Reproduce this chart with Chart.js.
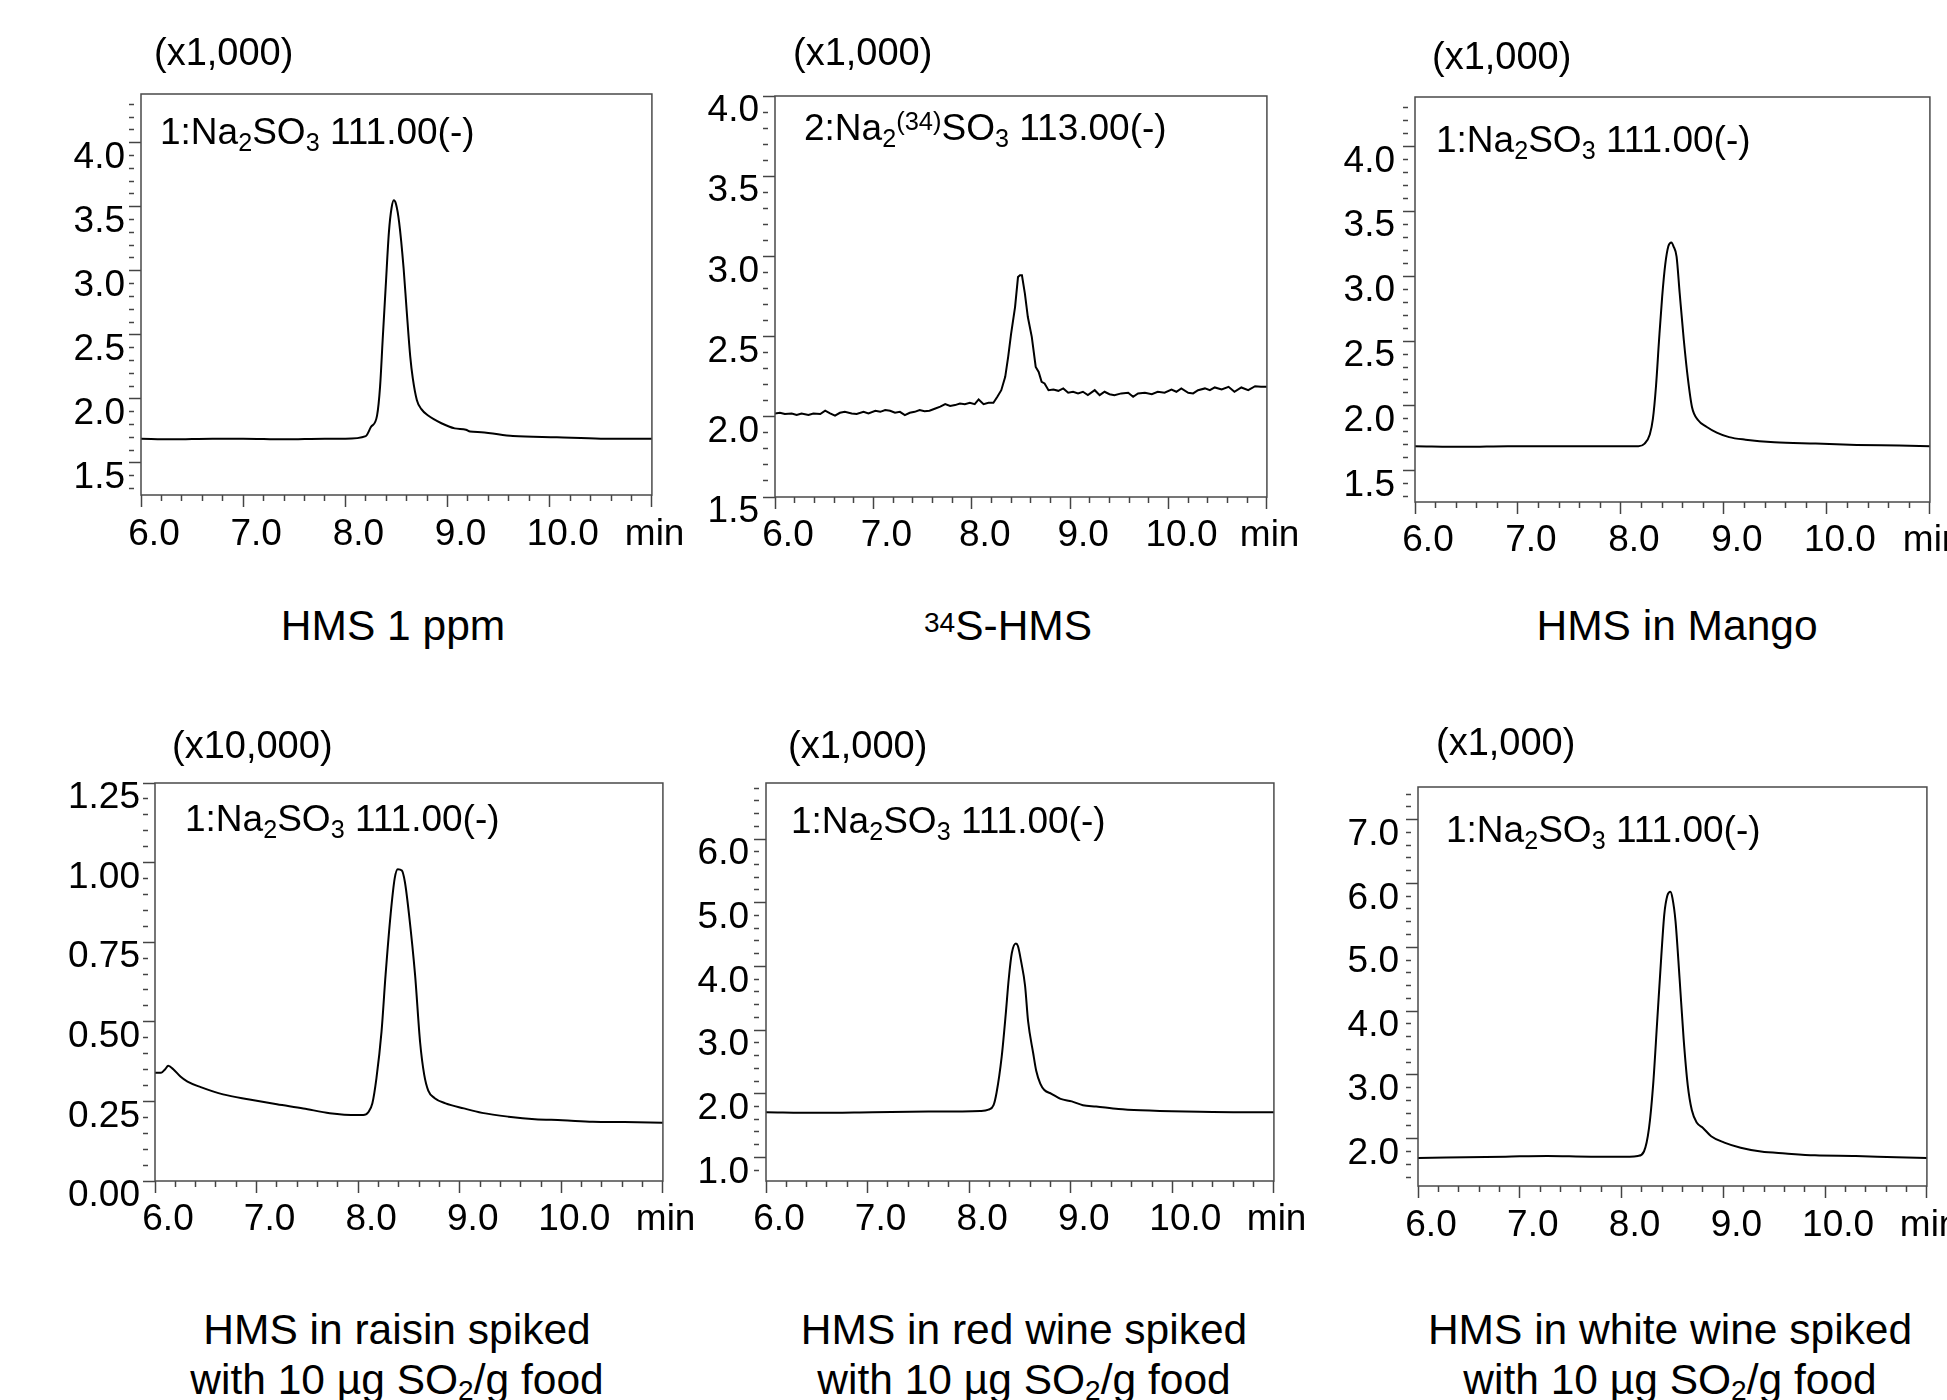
<!DOCTYPE html>
<html>
<head>
<meta charset="utf-8">
<script src="https://cdn.jsdelivr.net/npm/chart.js@4.4.1/dist/chart.umd.min.js"></script>
<style>
html,body{margin:0;padding:0;width:1947px;height:1400px;overflow:hidden;background:#fff;}
canvas{position:absolute;}
.txt{position:absolute;font-family:"Liberation Sans",Arial,Helvetica,sans-serif;color:#000;white-space:nowrap;z-index:5;}
.txt sub,.txt sup{position:relative;vertical-align:baseline;line-height:0;}
.ann sub{font-size:0.68em;top:0.26em;}
.ann sup{font-size:0.69em;top:-0.39em;}
.cap sub{font-size:0.66em;top:0.22em;}
.cap sup{font-size:0.66em;top:-0.3em;}
</style>
</head>
<body>
<script>
// ---------------- DATA ----------------
const xMajor = [6, 7, 8, 9, 10, 11];
const xMajorLabels = ['6.0', '7.0', '8.0', '9.0', '10.0', 'min  '];

// Panel 1 : HMS 1 ppm  (x1,000)
const p1Time   = [6.00, 6.30, 6.70, 7.00, 7.40, 7.80, 8.00, 8.20, 8.25, 8.31, 8.34, 8.365, 8.395, 8.426, 8.452, 8.474, 8.496, 8.526, 8.57, 8.60, 8.635, 8.66, 8.70, 8.744, 8.81, 8.94, 9.07, 9.18, 9.22, 9.33, 9.64, 10.07, 10.50, 11.00];
const p1Signal = [1.69, 1.685, 1.69, 1.69, 1.685, 1.69, 1.69, 1.71, 1.78, 1.87, 2.10, 2.46, 2.88, 3.30, 3.49, 3.55, 3.52, 3.38, 3.02, 2.69, 2.33, 2.16, 1.99, 1.92, 1.87, 1.81, 1.77, 1.76, 1.745, 1.74, 1.71, 1.70, 1.69, 1.69];
const p1YMajor = [1.5, 2.0, 2.5, 3.0, 3.5, 4.0];
const p1YLabels = ['1.5', '2.0', '2.5', '3.0', '3.5', '4.0'];

// Panel 2 : 34S-HMS  (x1,000)
const p2Time   = [6.00, 6.05, 6.10, 6.17, 6.22, 6.27, 6.34, 6.39, 6.46, 6.51, 6.56, 6.61, 6.66, 6.71, 6.78, 6.83, 6.90, 6.95, 7.02, 7.07, 7.12, 7.17, 7.22, 7.27, 7.32, 7.37, 7.42, 7.47, 7.52, 7.57, 7.63, 7.68, 7.73, 7.78, 7.83, 7.88, 7.93, 7.98, 8.03, 8.07, 8.12, 8.17, 8.22, 8.26, 8.30, 8.34, 8.37, 8.40, 8.44, 8.47, 8.49, 8.51, 8.54, 8.57, 8.61, 8.65, 8.68, 8.71, 8.74, 8.78, 8.83, 8.88, 8.93, 8.98, 9.03, 9.08, 9.13, 9.18, 9.25, 9.30, 9.35, 9.40, 9.45, 9.52, 9.59, 9.64, 9.69, 9.76, 9.83, 9.89, 9.96, 10.03, 10.08, 10.13, 10.20, 10.25, 10.30, 10.37, 10.42, 10.47, 10.54, 10.61, 10.67, 10.74, 10.81, 10.88, 10.94, 11.00];
const p2Signal = [2.021, 2.025, 2.017, 2.021, 2.011, 2.021, 2.011, 2.021, 2.017, 2.038, 2.021, 2.007, 2.025, 2.031, 2.021, 2.017, 2.031, 2.021, 2.038, 2.031, 2.042, 2.038, 2.025, 2.031, 2.011, 2.025, 2.031, 2.042, 2.035, 2.038, 2.052, 2.063, 2.079, 2.067, 2.073, 2.083, 2.079, 2.087, 2.079, 2.108, 2.079, 2.087, 2.087, 2.125, 2.166, 2.249, 2.373, 2.518, 2.684, 2.871, 2.882, 2.882, 2.768, 2.622, 2.498, 2.311, 2.280, 2.218, 2.208, 2.166, 2.170, 2.162, 2.177, 2.150, 2.156, 2.146, 2.156, 2.135, 2.166, 2.135, 2.156, 2.141, 2.135, 2.146, 2.150, 2.125, 2.146, 2.150, 2.141, 2.156, 2.150, 2.170, 2.156, 2.177, 2.150, 2.146, 2.166, 2.177, 2.166, 2.183, 2.170, 2.187, 2.156, 2.183, 2.166, 2.191, 2.187, 2.187];
const p2YMajor = [1.5, 2.0, 2.5, 3.0, 3.5, 4.0];
const p2YLabels = ['1.5', '2.0', '2.5', '3.0', '3.5', '4.0'];

// Panel 3 : HMS in Mango  (x1,000)
const p3Time   = [6.00, 6.49, 6.90, 7.29, 7.70, 8.17, 8.23, 8.28, 8.31, 8.34, 8.37, 8.40, 8.43, 8.46, 8.49, 8.51, 8.54, 8.57, 8.61, 8.65, 8.69, 8.75, 8.83, 8.93, 9.05, 9.21, 9.49, 9.89, 10.29, 10.70, 11.00];
const p3Signal = [1.69, 1.685, 1.69, 1.69, 1.69, 1.69, 1.71, 1.78, 1.90, 2.15, 2.51, 2.84, 3.09, 3.23, 3.26, 3.23, 3.15, 2.87, 2.51, 2.21, 1.99, 1.89, 1.84, 1.795, 1.76, 1.74, 1.72, 1.71, 1.70, 1.695, 1.69];
const p3YMajor = [1.5, 2.0, 2.5, 3.0, 3.5, 4.0];
const p3YLabels = ['1.5', '2.0', '2.5', '3.0', '3.5', '4.0'];

// Panel 4 : HMS in raisin  (x10,000)
const p4Time   = [6.00, 6.06, 6.10, 6.13, 6.18, 6.25, 6.32, 6.45, 6.67, 6.93, 7.20, 7.46, 7.72, 7.99, 8.05, 8.10, 8.14, 8.18, 8.23, 8.27, 8.32, 8.36, 8.39, 8.43, 8.46, 8.50, 8.56, 8.61, 8.65, 8.69, 8.75, 8.86, 9.04, 9.22, 9.48, 9.74, 10.01, 10.31, 10.62, 11.00];
const p4Signal = [0.340, 0.340, 0.351, 0.362, 0.351, 0.328, 0.312, 0.295, 0.272, 0.256, 0.241, 0.228, 0.213, 0.207, 0.207, 0.216, 0.244, 0.323, 0.469, 0.648, 0.839, 0.951, 0.979, 0.975, 0.939, 0.839, 0.648, 0.435, 0.334, 0.284, 0.261, 0.244, 0.228, 0.214, 0.202, 0.194, 0.191, 0.186, 0.185, 0.183];
const p4YMajor = [0.00, 0.25, 0.50, 0.75, 1.00, 1.25];
const p4YLabels = ['0.00', '0.25', '0.50', '0.75', '1.00', '1.25'];

// Panel 5 : HMS in red wine  (x1,000)
const p5Time   = [6.00, 6.50, 7.05, 7.60, 8.11, 8.19, 8.24, 8.27, 8.32, 8.36, 8.39, 8.42, 8.46, 8.48, 8.51, 8.55, 8.58, 8.63, 8.66, 8.70, 8.74, 8.81, 8.90, 9.01, 9.12, 9.25, 9.47, 9.69, 10.13, 10.60, 11.00];
const p5Signal = [1.71, 1.70, 1.71, 1.72, 1.73, 1.75, 1.82, 2.02, 2.58, 3.25, 3.81, 4.21, 4.36, 4.32, 4.09, 3.70, 3.14, 2.64, 2.36, 2.16, 2.06, 2.00, 1.92, 1.88, 1.82, 1.80, 1.76, 1.74, 1.72, 1.71, 1.71];
const p5YMajor = [1.0, 2.0, 3.0, 4.0, 5.0, 6.0];
const p5YLabels = ['1.0', '2.0', '3.0', '4.0', '5.0', '6.0'];

// Panel 6 : HMS in white wine  (x1,000)
const p6Time   = [6.00, 6.86, 7.27, 7.70, 8.08, 8.16, 8.22, 8.27, 8.31, 8.35, 8.39, 8.42, 8.45, 8.48, 8.50, 8.53, 8.57, 8.61, 8.65, 8.69, 8.74, 8.80, 8.88, 9.01, 9.17, 9.37, 9.61, 9.90, 10.30, 10.70, 11.00];
const p6Signal = [1.70, 1.72, 1.73, 1.72, 1.72, 1.73, 1.80, 2.17, 2.84, 3.84, 4.85, 5.52, 5.81, 5.87, 5.77, 5.41, 4.51, 3.56, 2.84, 2.45, 2.25, 2.17, 2.04, 1.94, 1.86, 1.80, 1.77, 1.74, 1.73, 1.71, 1.70];
const p6YMajor = [2.0, 3.0, 4.0, 5.0, 6.0, 7.0];
const p6YLabels = ['2.0', '3.0', '4.0', '5.0', '6.0', '7.0'];

// Texts
const scaleLabels = ['(x1,000)', '(x1,000)', '(x1,000)', '(x10,000)', '(x1,000)', '(x1,000)'];
const traceLabels = [
  '1:Na<sub>2</sub>SO<sub>3</sub> 111.00(-)',
  '2:Na<sub>2</sub><sup>(34)</sup>SO<sub>3</sub> 113.00(-)',
  '1:Na<sub>2</sub>SO<sub>3</sub> 111.00(-)',
  '1:Na<sub>2</sub>SO<sub>3</sub> 111.00(-)',
  '1:Na<sub>2</sub>SO<sub>3</sub> 111.00(-)',
  '1:Na<sub>2</sub>SO<sub>3</sub> 111.00(-)'
];
const captions = [
  'HMS 1 ppm',
  '<sup>34</sup>S-HMS',
  'HMS in Mango',
  'HMS in raisin spiked<br>with 10 µg SO<sub>2</sub>/g food',
  'HMS in red wine spiked<br>with 10 µg SO<sub>2</sub>/g food',
  'HMS in white wine spiked<br>with 10 µg SO<sub>2</sub>/g food'
];

// ---------------- LAYOUT ----------------
const FONT = '"Liberation Sans", Arial, Helvetica, sans-serif';
const TICKFS = 37;
const AXW = 110, PADT = 40, PADR = 45, AXH = 75;
const layout = [
  {box: [141, 94, 653, 495],    yMin: 1.25, yMax: 4.38, yStep: 0.1,  yPad: 4, xPad: 6, scaleAt: [154, 65],  annAt: [160, 145],  capAt: [393, 641]},
  {box: [775, 96, 1267, 497],   yMin: 1.5,  yMax: 4.0,  yStep: 0.1,  yPad: 4, xPad: 5, scaleAt: [793, 65],  annAt: [804, 141],  capAt: [1008, 641]},
  {box: [1415, 97, 1930, 502],  yMin: 1.26, yMax: 4.38, yStep: 0.1,  yPad: 8, xPad: 5, scaleAt: [1432, 69], annAt: [1436, 153], capAt: [1677, 641]},
  {box: [155, 783, 663, 1181],  yMin: 0,    yMax: 1.25, yStep: 0.05, yPad: 3, xPad: 5, scaleAt: [172, 758], annAt: [185, 832],  capAt: [397, 1345]},
  {box: [766, 783, 1274, 1181], yMin: 0.63, yMax: 6.88, yStep: 0.2,  yPad: 5, xPad: 5, scaleAt: [788, 758], annAt: [791, 834],  capAt: [1024, 1345]},
  {box: [1418, 787, 1928, 1186],yMin: 1.26, yMax: 7.51, yStep: 0.2,  yPad: 7, xPad: 6, scaleAt: [1436, 755],annAt: [1446, 843], capAt: [1670, 1345]}
];
const series = [
  {time: p1Time, signal: p1Signal, yMajor: p1YMajor, yLabels: p1YLabels, noisy: false},
  {time: p2Time, signal: p2Signal, yMajor: p2YMajor, yLabels: p2YLabels, noisy: true},
  {time: p3Time, signal: p3Signal, yMajor: p3YMajor, yLabels: p3YLabels, noisy: false},
  {time: p4Time, signal: p4Signal, yMajor: p4YMajor, yLabels: p4YLabels, noisy: false},
  {time: p5Time, signal: p5Signal, yMajor: p5YMajor, yLabels: p5YLabels, noisy: false},
  {time: p6Time, signal: p6Signal, yMajor: p6YMajor, yLabels: p6YLabels, noisy: false}
];

function minorTicks(min, max, step) {
  const out = [];
  const k0 = Math.ceil(min / step - 1e-9), k1 = Math.floor(max / step + 1e-9);
  for (let k = k0; k <= k1; k++) out.push(Math.round(k * step * 1000) / 1000);
  return out;
}
function majorIndex(list, v) {
  return list.findIndex(m => Math.abs(m - v) < 1e-6);
}

const framePlugin = {
  id: 'frame',
  afterDraw(chart) {
    const a = chart.chartArea, ctx = chart.ctx;
    ctx.save();
    ctx.strokeStyle = '#4a4a4a';
    ctx.lineWidth = 1.5;
    ctx.strokeRect(a.left, a.top, a.right - a.left, a.bottom - a.top);
    ctx.restore();
  }
};

function addText(html, cls, x, baseline, fs, align, lh) {
  const d = document.createElement('div');
  d.className = 'txt ' + cls;
  d.innerHTML = html;
  d.style.fontSize = fs + 'px';
  d.style.lineHeight = lh + 'px';
  const off = (lh - 1.117 * fs) / 2 + 0.905 * fs;
  d.style.top = (baseline - off) + 'px';
  if (align === 'center') {
    d.style.left = (x - 400) + 'px';
    d.style.width = '800px';
    d.style.textAlign = 'center';
  } else {
    d.style.left = x + 'px';
  }
  document.body.appendChild(d);
}

series.forEach((s, i) => {
  const L = layout[i];
  const [x0, y0, x1, y1] = L.box;
  const cv = document.createElement('canvas');
  const W = (x1 - x0) + AXW + PADR, H = (y1 - y0) + PADT + AXH;
  cv.width = W; cv.height = H;
  cv.style.left = (x0 - AXW) + 'px';
  cv.style.top = (y0 - PADT) + 'px';
  cv.style.width = W + 'px'; cv.style.height = H + 'px';
  document.body.appendChild(cv);

  const yTicks = minorTicks(L.yMin, L.yMax, L.yStep);
  const xTicks = minorTicks(6, 11, 0.2);

  new Chart(cv.getContext('2d'), {
    type: 'line',
    data: {
      datasets: [{
        data: s.time.map((t, k) => ({x: t, y: s.signal[k]})),
        borderColor: '#000',
        borderWidth: 2,
        pointRadius: 0,
        fill: false,
        tension: s.noisy ? 0 : 0.4,
        cubicInterpolationMode: s.noisy ? 'default' : 'monotone'
      }]
    },
    options: {
      responsive: false,
      animation: false,
      devicePixelRatio: 1,
      layout: {padding: {top: PADT, right: PADR, left: 0, bottom: 0}},
      plugins: {legend: {display: false}, tooltip: {enabled: false}},
      scales: {
        x: {
          type: 'linear', min: 6, max: 11,
          afterBuildTicks: sc => { sc.ticks = xTicks.map(v => ({value: v})); },
          afterFit: sc => { sc.height = AXH; },
          border: {display: false},
          grid: {
            drawOnChartArea: false, drawTicks: true, tickLength: 12,
            tickColor: '#444', tickWidth: 1.5,
            tickBorderDash: c => majorIndex(xMajor, c.tick.value) >= 0 ? [] : [6, 1000]
          },
          ticks: {
            autoSkip: false, maxRotation: 0, minRotation: 0, padding: L.xPad, labelOffset: 13,
            color: '#000', font: {family: FONT, size: TICKFS},
            callback: v => { const j = majorIndex(xMajor, v); return j >= 0 ? xMajorLabels[j] : ''; }
          }
        },
        y: {
          type: 'linear', min: L.yMin, max: L.yMax,
          afterBuildTicks: sc => { sc.ticks = yTicks.map(v => ({value: v})); },
          afterFit: sc => { sc.width = AXW; },
          border: {display: false},
          grid: {
            drawOnChartArea: false, drawTicks: true, tickLength: 12,
            tickColor: '#444', tickWidth: 1.5,
            tickBorderDash: c => majorIndex(s.yMajor, c.tick.value) >= 0 ? [] : [5, 1000]
          },
          ticks: {
            autoSkip: false, padding: L.yPad, labelOffset: 15,
            color: '#000', font: {family: FONT, size: TICKFS},
            callback: v => { const j = majorIndex(s.yMajor, v); return j >= 0 ? s.yLabels[j] : ''; }
          }
        }
      }
    },
    plugins: [framePlugin]
  });

  addText(scaleLabels[i], 'sc', L.scaleAt[0], L.scaleAt[1], 38, 'left', 46);
  addText(traceLabels[i], 'ann', L.annAt[0], L.annAt[1], 37, 'left', 44);
  addText(captions[i], 'cap', L.capAt[0], L.capAt[1], 42.5, 'center', 50);
});
</script>
</body>
</html>
